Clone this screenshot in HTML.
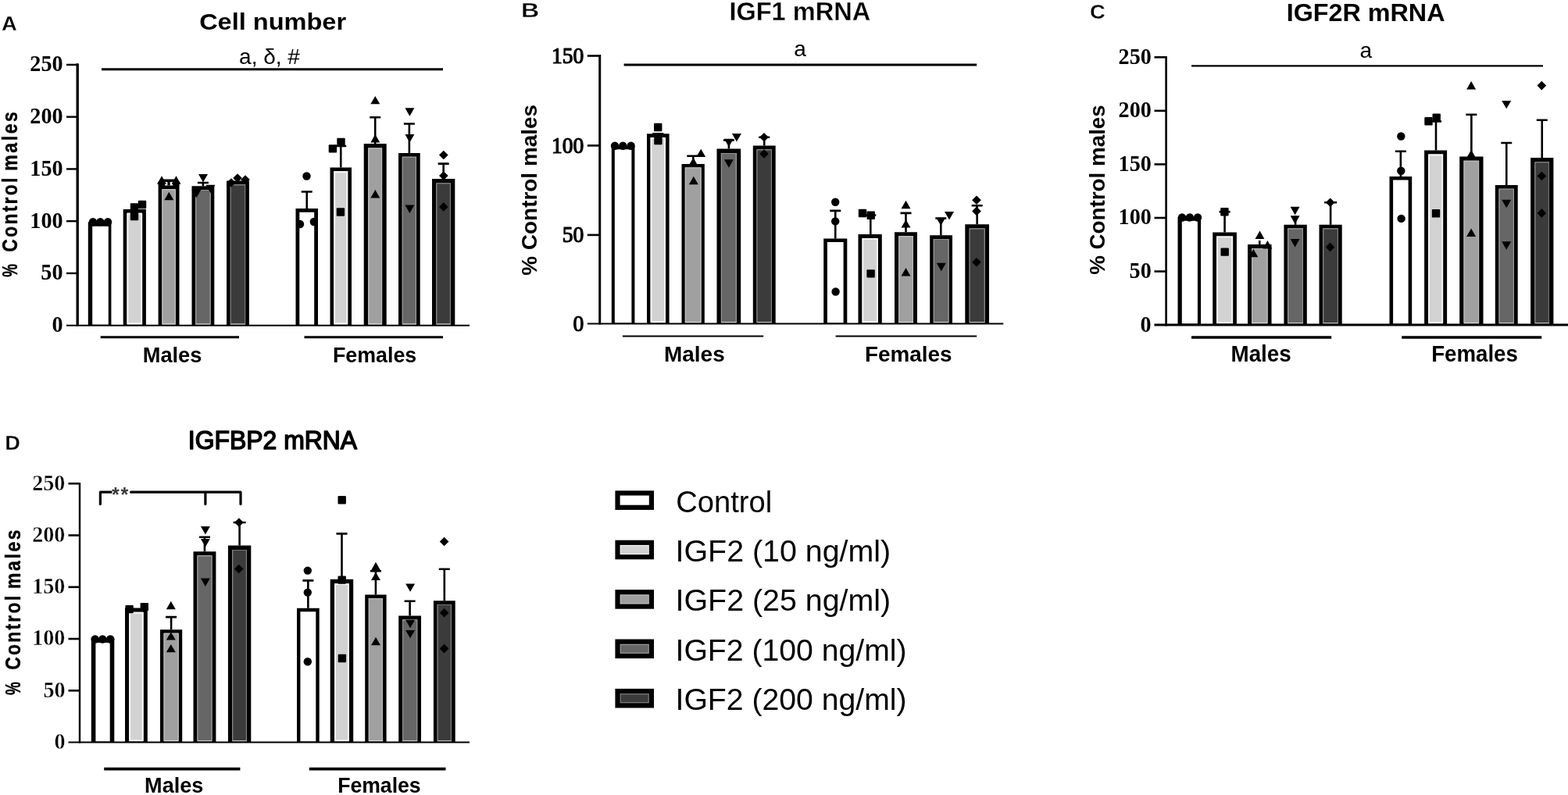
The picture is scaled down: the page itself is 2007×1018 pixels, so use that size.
<!DOCTYPE html>
<html lang="en">
<head>
<meta charset="utf-8">
<title>IGF2 effects on cell number and IGF system mRNA</title>
<style>
html,body{margin:0;padding:0;background:#fff;}
body{width:2007px;height:1018px;overflow:hidden;}
svg{display:block;}
text{fill:#000;white-space:pre;}
.sb{font-family:"Liberation Sans",sans-serif;font-weight:bold;}
.sr{font-family:"Liberation Sans",sans-serif;font-weight:normal;}
.tb{font-family:"Liberation Serif",serif;font-weight:bold;}
.tr{font-family:"Liberation Serif",serif;font-weight:normal;}
</style>
</head>
<body>
<svg width="2007" height="1018" viewBox="0 0 2007 1018">
<rect width="2007" height="1018" fill="#fff"/>
<g id="panel-A">
<path d="M112.8 416.7V284.3H142.4V416.7Z" fill="#000"/>
<path d="M118.2 289.7H138.8V415.7H118.2Z" fill="#ffffff"/>
<circle cx="119" cy="284.2" r="5.2"/>
<circle cx="128.4" cy="284.2" r="5.2"/>
<circle cx="138" cy="284.2" r="5.2"/>
<path d="M157.7 416.7V268H186.9V416.7Z" fill="#000"/>
<path d="M162.5 272.8H182.1V415.7H162.5Z" fill="#fff"/>
<path d="M162.5 272.8H182.1V414.7H162.5Z" fill="#f6f6f6"/>
<path d="M164.37 274.67H180.23V413.23H164.37Z" fill="#d2d2d2"/>
<rect x="166.8" y="260.3" width="10.4" height="10.4" rx="1"/>
<rect x="176.8" y="256.8" width="10.4" height="10.4" rx="1"/>
<rect x="166.8" y="271.8" width="10.4" height="10.4" rx="1"/>
<path d="M216.05 237.5V231.3M207.05 231.3H225.05" stroke="#000" stroke-width="3.4" fill="none"/>
<path d="M202.6 416.7V237.5H229.5V416.7Z" fill="#000"/>
<path d="M207.4 242.3H224.7V415.7H207.4Z" fill="#fff"/>
<path d="M207.4 242.3H224.7V414.7H207.4Z" fill="#bcbcbc"/>
<path d="M208.5 243.4H223.6V414H208.5Z" fill="#a0a0a0"/>
<path d="M207 225.28L212.98 235.68H201.02Z"/>
<path d="M225.5 225.28L231.48 235.68H219.52Z"/>
<path d="M216.3 245.78L222.28 256.18H210.32Z"/>
<path d="M259.9 238.2V234M252.9 234H266.9" stroke="#000" stroke-width="2.6" fill="none"/>
<path d="M245.5 416.7V238.2H274.3V416.7Z" fill="#000"/>
<path d="M250.3 243H269.5V415.7H250.3Z" fill="#fff"/>
<path d="M250.3 243H269.5V414.7H250.3Z" fill="#949494"/>
<path d="M251.4 244.1H268.4V414H251.4Z" fill="#666666"/>
<path d="M260 233.42L265.98 223.02H254.02Z"/>
<path d="M251.3 253.52L257.28 243.12H245.32Z"/>
<path d="M269.5 247.22L275.48 236.82H263.52Z"/>
<path d="M290 416.7V231.5H318.9V416.7Z" fill="#000"/>
<path d="M294.8 236.3H314.1V415.7H294.8Z" fill="#fff"/>
<path d="M294.8 236.3H314.1V414.7H294.8Z" fill="#767676"/>
<path d="M295.9 237.4H313V414H295.9Z" fill="#3b3b3b"/>
<path d="M304 222.18L309.82 228L304 233.82L298.18 228Z"/>
<path d="M314 224.18L319.82 230L314 235.82L308.18 230Z"/>
<path d="M296 228.18L301.82 234L296 239.82L290.18 234Z"/>
<path d="M392.75 267V245.5M385.75 245.5H399.75" stroke="#000" stroke-width="2.6" fill="none"/>
<path d="M378.5 416.7V267H407V416.7Z" fill="#000"/>
<path d="M383.3 271.8H402.2V415.7H383.3Z" fill="#ffffff"/>
<circle cx="392.5" cy="225.5" r="5.2"/>
<circle cx="384" cy="287" r="5.2"/>
<circle cx="401.8" cy="284" r="5.2"/>
<path d="M436.25 214.5V187M429.25 187H443.25" stroke="#000" stroke-width="2.6" fill="none"/>
<path d="M422.5 416.7V214.5H450V416.7Z" fill="#000"/>
<path d="M427.3 219.3H445.2V415.7H427.3Z" fill="#fff"/>
<path d="M427.3 219.3H445.2V414.7H427.3Z" fill="#f6f6f6"/>
<path d="M429.17 221.17H443.33V413.23H429.17Z" fill="#d2d2d2"/>
<rect x="420.7" y="185.2" width="10.4" height="10.4" rx="1"/>
<rect x="431.3" y="176.8" width="10.4" height="10.4" rx="1"/>
<rect x="430.7" y="266.3" width="10.4" height="10.4" rx="1"/>
<path d="M480.2 184V150.3M473.2 150.3H487.2" stroke="#000" stroke-width="2.6" fill="none"/>
<path d="M465.7 416.7V184H494.7V416.7Z" fill="#000"/>
<path d="M471.3 189.6H489.1V415.7H471.3Z" fill="#fff"/>
<path d="M471.3 189.6H489.1V414.7H471.3Z" fill="#bcbcbc"/>
<path d="M472.4 190.7H488V414H472.4Z" fill="#a0a0a0"/>
<path d="M480.3 122.88L486.28 133.28H474.32Z"/>
<path d="M480.3 171.98L486.28 182.38H474.32Z"/>
<path d="M480.3 243.08L486.28 253.48H474.32Z"/>
<path d="M523.85 196V158.5M516.85 158.5H530.85" stroke="#000" stroke-width="2.6" fill="none"/>
<path d="M510 416.7V196H537.7V416.7Z" fill="#000"/>
<path d="M514.8 200.8H532.9V415.7H514.8Z" fill="#fff"/>
<path d="M514.8 200.8H532.9V414.7H514.8Z" fill="#949494"/>
<path d="M515.9 201.9H531.8V414H515.9Z" fill="#666666"/>
<path d="M524.4 148.72L530.38 138.32H518.42Z"/>
<path d="M524.4 182.42L530.38 172.02H518.42Z"/>
<path d="M524.4 272.92L530.38 262.52H518.42Z"/>
<path d="M567.65 229V209.6M560.65 209.6H574.65" stroke="#000" stroke-width="2.6" fill="none"/>
<path d="M553 416.7V229H582.3V416.7Z" fill="#000"/>
<path d="M558.4 234.4H576.9V415.7H558.4Z" fill="#fff"/>
<path d="M558.4 234.4H576.9V414.7H558.4Z" fill="#767676"/>
<path d="M559.5 235.5H575.8V414H559.5Z" fill="#3b3b3b"/>
<path d="M567.8 192.68L573.62 198.5L567.8 204.32L561.98 198.5Z"/>
<path d="M567.8 219.18L573.62 225L567.8 230.82L561.98 225Z"/>
<path d="M567.8 259.08L573.62 264.9L567.8 270.72L561.98 264.9Z"/>
<path d="M99.2 81.2V417.7" stroke="#000" stroke-width="3.4" fill="none"/>
<path d="M85 416.7H601" stroke="#000" stroke-width="2" fill="none"/>
<path d="M85 82.9H99.2" stroke="#000" stroke-width="2.4"/>
<text class="tb" font-size="30" transform="translate(38.35 91.4) scale(0.94 1)">250</text>
<path d="M85 149.66H99.2" stroke="#000" stroke-width="2.4"/>
<text class="tb" font-size="30" transform="translate(38.35 158.16) scale(0.94 1)">200</text>
<path d="M85 216.42H99.2" stroke="#000" stroke-width="2.4"/>
<text class="tb" font-size="30" transform="translate(38.35 224.92) scale(0.94 1)">150</text>
<path d="M85 283.18H99.2" stroke="#000" stroke-width="2.4"/>
<text class="tb" font-size="30" transform="translate(38.35 291.68) scale(0.94 1)">100</text>
<path d="M85 349.94H99.2" stroke="#000" stroke-width="2.4"/>
<text class="tb" font-size="30" transform="translate(52.35 358.44) scale(0.94 1)">50</text>
<text class="tb" font-size="30" transform="translate(66.6 425.2) scale(0.94 1)">0</text>
<path d="M128.7 431.8H306" stroke="#000" stroke-width="3"/>
<text class="sb" font-size="28.3" transform="translate(182.73 464.2)" textLength="75.65" lengthAdjust="spacingAndGlyphs">Males</text>
<path d="M389.5 431.8H567" stroke="#000" stroke-width="3"/>
<text class="sb" font-size="28.3" transform="translate(425.96 464.2)" textLength="107.24" lengthAdjust="spacingAndGlyphs">Females</text>
<text class="sb" font-size="27" transform="translate(21.6 354.3) rotate(-90) translate(-0.5 0)" textLength="16.86" lengthAdjust="spacingAndGlyphs" stroke="#000" stroke-width="0.4" stroke-linejoin="round">%</text>
<text class="sb" font-size="27" transform="translate(21.6 321.9) rotate(-90) translate(-0.75 0) scale(0.85 1)" textLength="111.79" lengthAdjust="spacing" stroke="#000" stroke-width="0.4" stroke-linejoin="round">Control</text>
<text class="sb" font-size="27" transform="translate(21.6 217.5) rotate(-90) translate(-1.25 0) scale(0.85 1)" textLength="88.92" lengthAdjust="spacing" stroke="#000" stroke-width="0.4" stroke-linejoin="round">males</text>
<text class="sb" font-size="30" transform="translate(255.13 37.8)" textLength="187.97" lengthAdjust="spacingAndGlyphs">Cell number</text>
<text class="sb" font-size="26" transform="translate(2.09 38.8)" textLength="19.83" lengthAdjust="spacingAndGlyphs" stroke="#fff" stroke-width="0.3" stroke-linejoin="round">A</text>
<path d="M130 88.8H567" stroke="#000" stroke-width="3"/>
<text class="sr" font-size="28" x="345" y="81.5" text-anchor="middle">a, δ, #</text>
<path d="M202.6 232.5H211V238H202.6ZM221.2 232.5H229.5V238H221.2Z"/>
</g>
<g id="panel-B">
<path d="M782.8 414.6V187.2H812.4V414.6Z" fill="#000"/>
<path d="M786.8 191.2H808.4V413.6H786.8Z" fill="#ffffff"/>
<circle cx="787" cy="186.8" r="5.2"/>
<circle cx="797.3" cy="186.8" r="5.2"/>
<circle cx="807.6" cy="186.8" r="5.2"/>
<path d="M842.3 171.3V171.3M835.3 171.3H849.3" stroke="#000" stroke-width="2.6" fill="none"/>
<path d="M828 414.6V171.3H856.6V414.6Z" fill="#000"/>
<path d="M832.6 175.9H852V413.6H832.6Z" fill="#fff"/>
<path d="M832.6 175.9H852V412.6H832.6Z" fill="#f6f6f6"/>
<path d="M834.47 177.77H850.13V411.13H834.47Z" fill="#d2d2d2"/>
<rect x="837" y="157.8" width="10.4" height="10.4" rx="1"/>
<rect x="837.2" y="174.8" width="10.4" height="10.4" rx="1"/>
<path d="M887.3 210.1V199.8M879.3 199.8H895.3" stroke="#000" stroke-width="2.6" fill="none"/>
<path d="M872.5 414.6V210.1H901.8V414.6Z" fill="#000"/>
<path d="M876.8 214.4H897.5V413.6H876.8Z" fill="#fff"/>
<path d="M876.8 214.4H897.5V412.6H876.8Z" fill="#bcbcbc"/>
<path d="M877.9 215.5H896.4V411.9H877.9Z" fill="#a0a0a0"/>
<path d="M897.2 190.68L903.18 201.08H891.22Z"/>
<path d="M887.4 201.78L893.38 212.18H881.42Z"/>
<path d="M887.8 225.78L893.78 236.18H881.82Z"/>
<path d="M932.9 190.6V179.5M925.9 179.5H939.9" stroke="#000" stroke-width="2.6" fill="none"/>
<path d="M917.5 414.6V190.6H948.2V414.6Z" fill="#000"/>
<path d="M922.9 196H942.8V413.6H922.9Z" fill="#fff"/>
<path d="M922.9 196H942.8V412.6H922.9Z" fill="#949494"/>
<path d="M924 197.1H941.7V411.9H924Z" fill="#666666"/>
<path d="M942.9 181.52L948.88 171.12H936.92Z"/>
<path d="M932.9 188.12L938.88 177.72H926.92Z"/>
<path d="M932.9 214.72L938.88 204.32H926.92Z"/>
<path d="M978.25 186.5V175.8M971.25 175.8H985.25" stroke="#000" stroke-width="2.6" fill="none"/>
<path d="M963.8 414.6V186.5H992.7V414.6Z" fill="#000"/>
<path d="M968.6 191.3H987.9V413.6H968.6Z" fill="#fff"/>
<path d="M968.6 191.3H987.9V412.6H968.6Z" fill="#767676"/>
<path d="M969.7 192.4H986.8V411.9H969.7Z" fill="#3b3b3b"/>
<path d="M978 169.98L983.82 175.8L978 181.62L972.18 175.8Z"/>
<path d="M978 191.18L983.82 197L978 202.82L972.18 197Z"/>
<path d="M1069.25 305.4V269.9M1062.25 269.9H1076.25" stroke="#000" stroke-width="2.6" fill="none"/>
<path d="M1054.2 414.6V305.4H1084.3V414.6Z" fill="#000"/>
<path d="M1058.9 310.1H1079.6V413.6H1058.9Z" fill="#ffffff"/>
<circle cx="1069.2" cy="258.8" r="5.2"/>
<circle cx="1069.2" cy="283.4" r="5.2"/>
<circle cx="1069.6" cy="373.5" r="5.2"/>
<path d="M1114.3 300V275.5M1107.3 275.5H1121.3" stroke="#000" stroke-width="2.6" fill="none"/>
<path d="M1098.5 414.6V300H1128.8V414.6Z" fill="#000"/>
<path d="M1103.5 305H1123.8V413.6H1103.5Z" fill="#fff"/>
<path d="M1103.5 305H1123.8V412.6H1103.5Z" fill="#f6f6f6"/>
<path d="M1105.37 306.87H1121.93V411.13H1105.37Z" fill="#d2d2d2"/>
<rect x="1098.8" y="267.8" width="10.4" height="10.4" rx="1"/>
<rect x="1109.5" y="270.6" width="10.4" height="10.4" rx="1"/>
<rect x="1109.4" y="345.2" width="10.4" height="10.4" rx="1"/>
<path d="M1159.5 297.3V272.9M1152.5 272.9H1166.5" stroke="#000" stroke-width="2.6" fill="none"/>
<path d="M1145 414.6V297.3H1174V414.6Z" fill="#000"/>
<path d="M1150 302.3H1169V413.6H1150Z" fill="#fff"/>
<path d="M1150 302.3H1169V412.6H1150Z" fill="#bcbcbc"/>
<path d="M1151.1 303.4H1167.9V411.9H1151.1Z" fill="#a0a0a0"/>
<path d="M1159.5 256.78L1165.48 267.18H1153.52Z"/>
<path d="M1159.5 281.18L1165.48 291.58H1153.52Z"/>
<path d="M1159.5 342.98L1165.48 353.38H1153.52Z"/>
<path d="M1204.3 301.3V279.5M1197.3 279.5H1211.3" stroke="#000" stroke-width="2.6" fill="none"/>
<path d="M1190.2 414.6V301.3H1219V414.6Z" fill="#000"/>
<path d="M1194.8 305.9H1214.4V413.6H1194.8Z" fill="#fff"/>
<path d="M1194.8 305.9H1214.4V412.6H1194.8Z" fill="#949494"/>
<path d="M1195.9 307H1213.3V411.9H1195.9Z" fill="#666666"/>
<path d="M1215 281.42L1220.98 271.02H1209.02Z"/>
<path d="M1204.3 289.12L1210.28 278.72H1198.32Z"/>
<path d="M1204.8 347.22L1210.78 336.82H1198.82Z"/>
<path d="M1250.65 287.2V263.2M1243.65 263.2H1257.65" stroke="#000" stroke-width="2.6" fill="none"/>
<path d="M1235.3 414.6V287.2H1266V414.6Z" fill="#000"/>
<path d="M1240.7 292.6H1260.6V413.6H1240.7Z" fill="#fff"/>
<path d="M1240.7 292.6H1260.6V412.6H1240.7Z" fill="#767676"/>
<path d="M1241.8 293.7H1259.5V411.9H1241.8Z" fill="#3b3b3b"/>
<path d="M1250 250.38L1255.82 256.2L1250 262.02L1244.18 256.2Z"/>
<path d="M1250 264.58L1255.82 270.4L1250 276.22L1244.18 270.4Z"/>
<path d="M1250 329.98L1255.82 335.8L1250 341.62L1244.18 335.8Z"/>
<path d="M767.7 70V415.6" stroke="#000" stroke-width="3" fill="none"/>
<path d="M751.8 414.6H1284.3" stroke="#000" stroke-width="2" fill="none"/>
<path d="M751.8 71.5H767.7" stroke="#000" stroke-width="2.6"/>
<text class="tr" font-size="29" transform="translate(705.95 80.8) scale(0.95 1)" stroke="#000" stroke-width="1.2" stroke-linejoin="round">150</text>
<path d="M751.8 186.4H767.7" stroke="#000" stroke-width="2.6"/>
<text class="tr" font-size="29" transform="translate(705.95 195.7) scale(0.95 1)" stroke="#000" stroke-width="1.2" stroke-linejoin="round">100</text>
<path d="M751.8 300.9H767.7" stroke="#000" stroke-width="2.6"/>
<text class="tr" font-size="29" transform="translate(719.7 310.2) scale(0.95 1)" stroke="#000" stroke-width="1.2" stroke-linejoin="round">50</text>
<text class="tr" font-size="29" transform="translate(733.45 423.9) scale(0.95 1)" stroke="#000" stroke-width="1.2" stroke-linejoin="round">0</text>
<path d="M796.9 430.6H977.2" stroke="#000" stroke-width="2"/>
<text class="sb" font-size="28.3" transform="translate(850.08 463.2)" textLength="77.61" lengthAdjust="spacingAndGlyphs">Males</text>
<path d="M1069.6 430.6H1250.2" stroke="#000" stroke-width="2"/>
<text class="sb" font-size="28.3" transform="translate(1106.88 463.2)" textLength="111.52" lengthAdjust="spacingAndGlyphs">Females</text>
<text class="sb" font-size="28" transform="translate(686.8 352) rotate(-90) translate(-0.75 0)" textLength="218.83" lengthAdjust="spacingAndGlyphs">% Control males</text>
<text class="sb" font-size="32.3" transform="translate(933.38 26.3)" textLength="180.78" lengthAdjust="spacingAndGlyphs" stroke="#fff" stroke-width="0.3" stroke-linejoin="round">IGF1 mRNA</text>
<text class="sb" font-size="26" transform="translate(666.98 21.7)" textLength="23.16" lengthAdjust="spacingAndGlyphs" stroke="#fff" stroke-width="0.3" stroke-linejoin="round">B</text>
<path d="M798.6 82.9H1250.2" stroke="#000" stroke-width="3"/>
<text class="sr" font-size="28" x="1024" y="72" text-anchor="middle">a</text>
</g>
<g id="panel-C">
<path d="M1507.5 416.1V278.2H1537.1V416.1Z" fill="#000"/>
<path d="M1512.8 282.8H1532.9V414.6H1512.8Z" fill="#ffffff"/>
<circle cx="1513" cy="278.5" r="5.2"/>
<circle cx="1522.8" cy="278.5" r="5.2"/>
<circle cx="1533" cy="278.5" r="5.2"/>
<path d="M1567.55 297.6V271.3M1560.55 271.3H1574.55" stroke="#000" stroke-width="2.6" fill="none"/>
<path d="M1552.2 416.1V297.6H1582.9V416.1Z" fill="#000"/>
<path d="M1557 302.4H1578.1V414.6H1557Z" fill="#fff"/>
<path d="M1557 302.4H1578.1V413.6H1557Z" fill="#f6f6f6"/>
<path d="M1558.87 304.27H1576.23V412.13H1558.87Z" fill="#d2d2d2"/>
<rect x="1562.2" y="266.1" width="10.4" height="10.4" rx="1"/>
<rect x="1562.5" y="317.4" width="10.4" height="10.4" rx="1"/>
<path d="M1612.25 313V308" stroke="#000" stroke-width="2.6" fill="none"/>
<path d="M1597 416.1V313H1627.5V416.1Z" fill="#000"/>
<path d="M1602 318H1622.5V414.6H1602Z" fill="#fff"/>
<path d="M1602 318H1622.5V413.6H1602Z" fill="#bcbcbc"/>
<path d="M1603.1 319.1H1621.4V412.9H1603.1Z" fill="#a0a0a0"/>
<path d="M1612.5 295.58L1618.48 305.98H1606.52Z"/>
<path d="M1622.4 308.08L1628.38 318.48H1616.42Z"/>
<path d="M1604.3 318.78L1610.28 329.18H1598.32Z"/>
<path d="M1658.1 287.8V276.2" stroke="#000" stroke-width="2.6" fill="none"/>
<path d="M1643.4 416.1V287.8H1672.8V416.1Z" fill="#000"/>
<path d="M1648.2 292.6H1668V414.6H1648.2Z" fill="#fff"/>
<path d="M1648.2 292.6H1668V413.6H1648.2Z" fill="#949494"/>
<path d="M1649.3 293.7H1666.9V412.9H1649.3Z" fill="#666666"/>
<path d="M1657.6 275.22L1663.58 264.82H1651.62Z"/>
<path d="M1657.6 286.72L1663.58 276.32H1651.62Z"/>
<path d="M1657.6 316.52L1663.58 306.12H1651.62Z"/>
<path d="M1703.1 287.8V259.3M1695.1 259.3H1711.1" stroke="#000" stroke-width="2.6" fill="none"/>
<path d="M1688.5 416.1V287.8H1717.7V416.1Z" fill="#000"/>
<path d="M1693.3 292.6H1712.9V414.6H1693.3Z" fill="#fff"/>
<path d="M1693.3 292.6H1712.9V413.6H1693.3Z" fill="#767676"/>
<path d="M1694.4 293.7H1711.8V412.9H1694.4Z" fill="#3b3b3b"/>
<path d="M1702.7 253.48L1708.52 259.3L1702.7 265.12L1696.88 259.3Z"/>
<path d="M1702.5 310.58L1708.32 316.4L1702.5 322.22L1696.68 316.4Z"/>
<path d="M1792.85 226V193.7M1785.85 193.7H1799.85" stroke="#000" stroke-width="2.6" fill="none"/>
<path d="M1778.5 416.1V226H1807.2V416.1Z" fill="#000"/>
<path d="M1783.1 230.6H1802.6V414.6H1783.1Z" fill="#ffffff"/>
<circle cx="1793.3" cy="174.5" r="5.2"/>
<circle cx="1793.3" cy="218.7" r="5.2"/>
<circle cx="1793.6" cy="279.9" r="5.2"/>
<path d="M1838 192.6V155.5M1831 155.5H1845" stroke="#000" stroke-width="2.6" fill="none"/>
<path d="M1823.1 416.1V192.6H1852.1V416.1Z" fill="#000"/>
<path d="M1828.1 197.6H1847.1V414.6H1828.1Z" fill="#fff"/>
<path d="M1828.1 197.6H1847.1V413.6H1828.1Z" fill="#f6f6f6"/>
<path d="M1829.97 199.47H1845.23V412.13H1829.97Z" fill="#d2d2d2"/>
<rect x="1823.3" y="150.1" width="10.4" height="10.4" rx="1"/>
<rect x="1833.5" y="145.5" width="10.4" height="10.4" rx="1"/>
<rect x="1832.8" y="268" width="10.4" height="10.4" rx="1"/>
<path d="M1883.35 200.4V146.7M1876.35 146.7H1890.35" stroke="#000" stroke-width="2.6" fill="none"/>
<path d="M1868.2 416.1V200.4H1898.5V416.1Z" fill="#000"/>
<path d="M1873.6 205.8H1893.1V414.6H1873.6Z" fill="#fff"/>
<path d="M1873.6 205.8H1893.1V413.6H1873.6Z" fill="#bcbcbc"/>
<path d="M1874.7 206.9H1892V412.9H1874.7Z" fill="#a0a0a0"/>
<path d="M1883.1 104.08L1889.08 114.48H1877.12Z"/>
<path d="M1883.1 191.78L1889.08 202.18H1877.12Z"/>
<path d="M1883.1 292.58L1889.08 302.98H1877.12Z"/>
<path d="M1928.25 236.9V183M1921.25 183H1935.25" stroke="#000" stroke-width="2.6" fill="none"/>
<path d="M1913.8 416.1V236.9H1942.7V416.1Z" fill="#000"/>
<path d="M1918.6 241.7H1937.9V414.6H1918.6Z" fill="#fff"/>
<path d="M1918.6 241.7H1937.9V413.6H1918.6Z" fill="#949494"/>
<path d="M1919.7 242.8H1936.8V412.9H1919.7Z" fill="#666666"/>
<path d="M1928.2 139.32L1934.18 128.92H1922.22Z"/>
<path d="M1928.2 266.22L1934.18 255.82H1922.22Z"/>
<path d="M1928.2 319.72L1934.18 309.32H1922.22Z"/>
<path d="M1973.75 202V153.7M1966.75 153.7H1980.75" stroke="#000" stroke-width="2.6" fill="none"/>
<path d="M1959.1 416.1V202H1988.4V416.1Z" fill="#000"/>
<path d="M1964.5 207.4H1983V414.6H1964.5Z" fill="#fff"/>
<path d="M1964.5 207.4H1983V413.6H1964.5Z" fill="#767676"/>
<path d="M1965.6 208.5H1981.9V412.9H1965.6Z" fill="#3b3b3b"/>
<path d="M1973.3 103.78L1979.12 109.6L1973.3 115.42L1967.48 109.6Z"/>
<path d="M1973.3 219.68L1979.12 225.5L1973.3 231.32L1967.48 225.5Z"/>
<path d="M1973.3 267.08L1979.12 272.9L1973.3 278.72L1967.48 272.9Z"/>
<path d="M1492.6 72V417.6" stroke="#000" stroke-width="2.6" fill="none"/>
<path d="M1477.5 416.1H2007" stroke="#000" stroke-width="3" fill="none"/>
<path d="M1477.5 73.3H1492.6" stroke="#000" stroke-width="2.6"/>
<text class="tb" font-size="29" transform="translate(1431.6 81.8) scale(0.97 1)">250</text>
<path d="M1477.5 141.86H1492.6" stroke="#000" stroke-width="2.6"/>
<text class="tb" font-size="29" transform="translate(1431.6 150.36) scale(0.97 1)">200</text>
<path d="M1477.5 210.42H1492.6" stroke="#000" stroke-width="2.6"/>
<text class="tb" font-size="29" transform="translate(1431.6 218.92) scale(0.97 1)">150</text>
<path d="M1477.5 278.98H1492.6" stroke="#000" stroke-width="2.6"/>
<text class="tb" font-size="29" transform="translate(1431.6 287.48) scale(0.97 1)">100</text>
<path d="M1477.5 347.54H1492.6" stroke="#000" stroke-width="2.6"/>
<text class="tb" font-size="29" transform="translate(1445.6 356.04) scale(0.97 1)">50</text>
<text class="tb" font-size="29" transform="translate(1459.6 424.6) scale(0.97 1)">0</text>
<path d="M1525 432H1704.2" stroke="#000" stroke-width="3.4"/>
<text class="sb" font-size="29" transform="translate(1575.53 463.3)" textLength="77.2" lengthAdjust="spacingAndGlyphs">Males</text>
<path d="M1794.2 432H1973.2" stroke="#000" stroke-width="3.4"/>
<text class="sb" font-size="29" transform="translate(1832.14 463.3)" textLength="110.73" lengthAdjust="spacingAndGlyphs">Females</text>
<text class="sb" font-size="28" transform="translate(1413.7 351.1) rotate(-90) translate(-0.75 0)" textLength="217.62" lengthAdjust="spacingAndGlyphs">% Control males</text>
<text class="sb" font-size="32" transform="translate(1646.78 27.2)" textLength="202.73" lengthAdjust="spacingAndGlyphs">IGF2R mRNA</text>
<text class="sb" font-size="26" transform="translate(1395 23.8)" textLength="19.72" lengthAdjust="spacingAndGlyphs" stroke="#fff" stroke-width="0.3" stroke-linejoin="round">C</text>
<path d="M1525 84.3H1975" stroke="#000" stroke-width="2.2"/>
<text class="sr" font-size="28" x="1748.3" y="73.5" text-anchor="middle">a</text>
</g>
<g id="panel-D">
<path d="M116.8 950.6V817.5H146.3V950.6Z" fill="#000"/>
<path d="M122.4 823.1H140.7V949.6H122.4Z" fill="#ffffff"/>
<circle cx="121.7" cy="818.5" r="5.2"/>
<circle cx="131.3" cy="818.5" r="5.2"/>
<circle cx="141.2" cy="818.5" r="5.2"/>
<path d="M160 950.6V778.6H188.8V950.6Z" fill="#000"/>
<path d="M165.2 783.8H183.6V949.6H165.2Z" fill="#fff"/>
<path d="M165.2 783.8H183.6V948.6H165.2Z" fill="#f6f6f6"/>
<path d="M167.07 785.67H181.73V947.13H167.07Z" fill="#d2d2d2"/>
<rect x="160.4" y="774.9" width="10.4" height="10.4" rx="1"/>
<rect x="179.6" y="771.9" width="10.4" height="10.4" rx="1"/>
<path d="M219.1 806.2V790.1M212.1 790.1H226.1" stroke="#000" stroke-width="2.6" fill="none"/>
<path d="M205 950.6V806.2H233.2V950.6Z" fill="#000"/>
<path d="M209.6 810.8H228.6V949.6H209.6Z" fill="#fff"/>
<path d="M209.6 810.8H228.6V948.6H209.6Z" fill="#bcbcbc"/>
<path d="M210.7 811.9H227.5V947.9H210.7Z" fill="#a0a0a0"/>
<path d="M218.8 769.78L224.78 780.18H212.82Z"/>
<path d="M218.8 809.18L224.78 819.58H212.82Z"/>
<path d="M218.8 824.88L224.78 835.28H212.82Z"/>
<path d="M261.95 706.3V687.8M254.95 687.8H268.95" stroke="#000" stroke-width="2.6" fill="none"/>
<path d="M247.5 950.6V706.3H276.4V950.6Z" fill="#000"/>
<path d="M252.5 711.3H271.4V949.6H252.5Z" fill="#fff"/>
<path d="M252.5 711.3H271.4V948.6H252.5Z" fill="#949494"/>
<path d="M253.6 712.4H270.3V947.9H253.6Z" fill="#666666"/>
<path d="M262.9 684.52L268.88 674.12H256.92Z"/>
<path d="M262.9 700.32L268.88 689.92H256.92Z"/>
<path d="M262.9 750.92L268.88 740.52H256.92Z"/>
<path d="M306.6 698.5V669M298.6 669H314.6" stroke="#000" stroke-width="2.6" fill="none"/>
<path d="M291.9 950.6V698.5H321.3V950.6Z" fill="#000"/>
<path d="M297.3 703.9H315.9V949.6H297.3Z" fill="#fff"/>
<path d="M297.3 703.9H315.9V948.6H297.3Z" fill="#767676"/>
<path d="M298.4 705H314.8V947.9H298.4Z" fill="#3b3b3b"/>
<path d="M305.9 663.18L311.72 669L305.9 674.82L300.08 669Z"/>
<path d="M305.7 722.68L311.52 728.5L305.7 734.32L299.88 728.5Z"/>
<path d="M394.35 778.8V743.4M387.35 743.4H401.35" stroke="#000" stroke-width="2.6" fill="none"/>
<path d="M380 950.6V778.8H408.7V950.6Z" fill="#000"/>
<path d="M384.4 783.2H404.3V949.6H384.4Z" fill="#ffffff"/>
<circle cx="393.8" cy="730.6" r="5.2"/>
<circle cx="393.8" cy="758.6" r="5.2"/>
<circle cx="393.8" cy="847.3" r="5.2"/>
<path d="M437.5 741.8V683.4M430.5 683.4H444.5" stroke="#000" stroke-width="2.6" fill="none"/>
<path d="M422.7 950.6V741.8H452.2V950.6Z" fill="#000"/>
<path d="M428.1 747.2H446.8V949.6H428.1Z" fill="#fff"/>
<path d="M428.1 747.2H446.8V948.6H428.1Z" fill="#f6f6f6"/>
<path d="M429.97 749.07H444.93V947.13H429.97Z" fill="#d2d2d2"/>
<rect x="432.5" y="635" width="10.4" height="10.4" rx="1"/>
<rect x="432.5" y="737.4" width="10.4" height="10.4" rx="1"/>
<rect x="432.7" y="837.8" width="10.4" height="10.4" rx="1"/>
<path d="M480.9 761.5V731.2M473.9 731.2H487.9" stroke="#000" stroke-width="2.6" fill="none"/>
<path d="M467.2 950.6V761.5H494.6V950.6Z" fill="#000"/>
<path d="M471.8 766.1H490V949.6H471.8Z" fill="#fff"/>
<path d="M471.8 766.1H490V948.6H471.8Z" fill="#bcbcbc"/>
<path d="M472.9 767.2H488.9V947.9H472.9Z" fill="#a0a0a0"/>
<path d="M481 719.78L486.98 730.18H475.02Z"/>
<path d="M481 732.68L486.98 743.08H475.02Z"/>
<path d="M481 815.78L486.98 826.18H475.02Z"/>
<path d="M524.6 788.6V769.8M517.6 769.8H531.6" stroke="#000" stroke-width="2.6" fill="none"/>
<path d="M510.2 950.6V788.6H539V950.6Z" fill="#000"/>
<path d="M515 793.4H534.2V949.6H515Z" fill="#fff"/>
<path d="M515 793.4H534.2V948.6H515Z" fill="#949494"/>
<path d="M516.1 794.5H533.1V947.9H516.1Z" fill="#666666"/>
<path d="M525.1 757.82L531.08 747.42H519.12Z"/>
<path d="M525.1 804.22L531.08 793.82H519.12Z"/>
<path d="M525.1 817.32L531.08 806.92H519.12Z"/>
<path d="M568.8 769.2V728.7M561.8 728.7H575.8" stroke="#000" stroke-width="2.6" fill="none"/>
<path d="M554.9 950.6V769.2H582.7V950.6Z" fill="#000"/>
<path d="M559.7 774H577.9V949.6H559.7Z" fill="#fff"/>
<path d="M559.7 774H577.9V948.6H559.7Z" fill="#767676"/>
<path d="M560.8 775.1H576.8V947.9H560.8Z" fill="#3b3b3b"/>
<path d="M568.6 687.68L574.42 693.5L568.6 699.32L562.78 693.5Z"/>
<path d="M568.6 778.98L574.42 784.8L568.6 790.62L562.78 784.8Z"/>
<path d="M568.6 824.78L574.42 830.6L568.6 836.42L562.78 830.6Z"/>
<path d="M102 618V951.6" stroke="#000" stroke-width="2.4" fill="none"/>
<path d="M87.5 950.6H601" stroke="#000" stroke-width="2" fill="none"/>
<path d="M87.5 619.2H102" stroke="#000" stroke-width="2.6"/>
<text class="tb" font-size="29" transform="translate(41.2 627.5) scale(0.97 1)" stroke="#fff" stroke-width="0.4" stroke-linejoin="round">250</text>
<path d="M87.5 685.48H102" stroke="#000" stroke-width="2.6"/>
<text class="tb" font-size="29" transform="translate(41.2 693.78) scale(0.97 1)" stroke="#fff" stroke-width="0.4" stroke-linejoin="round">200</text>
<path d="M87.5 751.76H102" stroke="#000" stroke-width="2.6"/>
<text class="tb" font-size="29" transform="translate(41.2 760.06) scale(0.97 1)" stroke="#fff" stroke-width="0.4" stroke-linejoin="round">150</text>
<path d="M87.5 818.04H102" stroke="#000" stroke-width="2.6"/>
<text class="tb" font-size="29" transform="translate(41.2 826.34) scale(0.97 1)" stroke="#fff" stroke-width="0.4" stroke-linejoin="round">100</text>
<path d="M87.5 884.32H102" stroke="#000" stroke-width="2.6"/>
<text class="tb" font-size="29" transform="translate(55.45 892.62) scale(0.97 1)" stroke="#fff" stroke-width="0.4" stroke-linejoin="round">50</text>
<text class="tb" font-size="29" transform="translate(69.45 958.9) scale(0.97 1)" stroke="#fff" stroke-width="0.4" stroke-linejoin="round">0</text>
<path d="M133.2 984.6H307.4" stroke="#000" stroke-width="3.6"/>
<text class="sb" font-size="28" transform="translate(185.12 1014.8)" textLength="75.28" lengthAdjust="spacingAndGlyphs">Males</text>
<path d="M395.8 984.6H570.5" stroke="#000" stroke-width="3.6"/>
<text class="sb" font-size="28" transform="translate(432.15 1014.8)" textLength="106.52" lengthAdjust="spacingAndGlyphs">Females</text>
<text class="sb" font-size="27" transform="translate(25.5 889.5) rotate(-90) translate(-0.5 0)" textLength="16.86" lengthAdjust="spacingAndGlyphs" stroke="#000" stroke-width="0.4" stroke-linejoin="round">%</text>
<text class="sb" font-size="27" transform="translate(25.5 857.1) rotate(-90) translate(-0.75 0) scale(0.85 1)" textLength="111.79" lengthAdjust="spacing" stroke="#000" stroke-width="0.4" stroke-linejoin="round">Control</text>
<text class="sb" font-size="27" transform="translate(25.5 752.7) rotate(-90) translate(-1.25 0) scale(0.85 1)" textLength="88.92" lengthAdjust="spacing" stroke="#000" stroke-width="0.4" stroke-linejoin="round">males</text>
<text class="sr" font-size="32.3" transform="translate(240.82 575.4)" textLength="216.26" lengthAdjust="spacingAndGlyphs" stroke="#000" stroke-width="1.5" stroke-linejoin="round">IGFBP2 mRNA</text>
<text class="sb" font-size="26" transform="translate(6.15 575.7)" textLength="19.72" lengthAdjust="spacingAndGlyphs" stroke="#fff" stroke-width="0.3" stroke-linejoin="round">D</text>
<path d="M128.4 645.6V630.2H142M167.6 630.2H308V645.6M262.9 630.2V645.6" stroke="#000" stroke-width="3.2" stroke-linecap="round" stroke-linejoin="round" fill="none"/>
<text class="sb" font-size="25" transform="translate(143 642.2)" textLength="21.3" lengthAdjust="spacing" style="fill:#3a3a3a">**</text>
</g>
<g id="legend">
<rect x="787.4" y="628.3" width="49.6" height="24.6" fill="#000"/>
<rect x="793.6" y="634.5" width="37.2" height="12.2" fill="#fff"/>
<text class="sr" font-size="39" transform="translate(865.3 655.5)" textLength="122.81" lengthAdjust="spacingAndGlyphs">Control</text>
<rect x="787.4" y="691.7" width="49.6" height="24.6" fill="#000"/>
<rect x="793.6" y="697.9" width="37.2" height="12.2" fill="#f4f4f4"/>
<rect x="794.8000000000001" y="699.1" width="34.8" height="9.8" fill="#d2d2d2"/>
<text class="sr" font-size="39" transform="translate(864.51 718.9)" textLength="275.69" lengthAdjust="spacingAndGlyphs">IGF2 (10 ng/ml)</text>
<rect x="787.4" y="755.1" width="49.6" height="24.6" fill="#000"/>
<rect x="793.6" y="761.3" width="37.2" height="12.2" fill="#c1c1c1"/>
<rect x="794.8000000000001" y="762.5" width="34.8" height="9.8" fill="#a0a0a0"/>
<text class="sr" font-size="39" transform="translate(864.51 782.3)" textLength="275.69" lengthAdjust="spacingAndGlyphs">IGF2 (25 ng/ml)</text>
<rect x="787.4" y="818.5" width="49.6" height="24.6" fill="#000"/>
<rect x="793.6" y="824.7" width="37.2" height="12.2" fill="#9c9c9c"/>
<rect x="794.8000000000001" y="825.9" width="34.8" height="9.8" fill="#666666"/>
<text class="sr" font-size="39" transform="translate(864.53 845.7)" textLength="296" lengthAdjust="spacingAndGlyphs">IGF2 (100 ng/ml)</text>
<rect x="787.4" y="881.9" width="49.6" height="24.6" fill="#000"/>
<rect x="793.6" y="888.1" width="37.2" height="12.2" fill="#808080"/>
<rect x="794.8000000000001" y="889.3" width="34.8" height="9.8" fill="#3b3b3b"/>
<text class="sr" font-size="39" transform="translate(864.53 909.1)" textLength="296" lengthAdjust="spacingAndGlyphs">IGF2 (200 ng/ml)</text>
</g>
</svg>
</body>
</html>
